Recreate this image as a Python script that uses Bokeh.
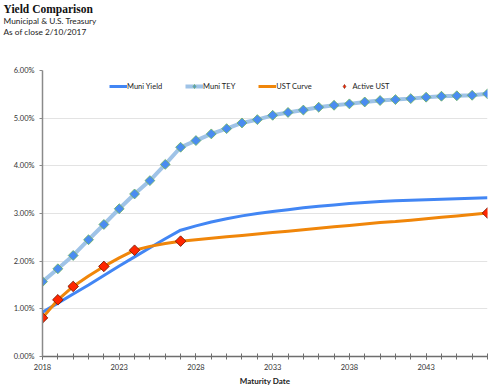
import numpy as np
from bokeh.plotting import figure
from bokeh.models import Range1d, FixedTicker, PrintfTickFormatter, Title, Legend, LegendItem
from bokeh.embed import file_html
from bokeh.resources import INLINE

years = list(range(2018, 2048))
muni_yield = [0.93, 1.12, 1.31, 1.50, 1.70, 1.90, 2.09, 2.28, 2.47, 2.65,
              2.74, 2.82, 2.89, 2.95, 3.00, 3.04, 3.08, 3.12, 3.15, 3.18,
              3.21, 3.23, 3.25, 3.27, 3.28, 3.29, 3.30, 3.31, 3.32, 3.33]
muni_tey = [1.57, 1.84, 2.12, 2.45, 2.77, 3.10, 3.41, 3.69, 4.03, 4.39,
            4.53, 4.67, 4.78, 4.90, 4.97, 5.06, 5.12, 5.17, 5.23, 5.27,
            5.30, 5.34, 5.37, 5.39, 5.41, 5.44, 5.46, 5.47, 5.48, 5.51]
ust_curve = [0.81, 1.19, 1.47, 1.69, 1.89, 2.07, 2.23, 2.31, 2.37, 2.42,
             2.45, 2.48, 2.51, 2.54, 2.57, 2.60, 2.63, 2.66, 2.69, 2.72,
             2.75, 2.78, 2.81, 2.83, 2.86, 2.89, 2.92, 2.95, 2.98, 3.01]
active_years = [2018, 2019, 2020, 2022, 2024, 2027, 2047]
active_ust = [0.81, 1.19, 1.47, 1.89, 2.23, 2.42, 3.01]
y_ticks = [0, 1, 2, 3, 4, 5, 6]
grid_ticks = [1, 2, 3, 4, 5]
x_major = [2018, 2023, 2028, 2033, 2038, 2043]

FONT = "Lato"
FW, FH = 445, 286
LEFT = 42

p = figure(frame_width=FW, frame_height=FH,
           x_range=Range1d(2018, 2047), y_range=Range1d(0, 6),
           output_backend="svg", toolbar_location=None,
           min_border_left=LEFT, min_border_right=5,
           min_border_top=0, min_border_bottom=25)
p.outline_line_color = None
p.background_fill_color = "white"
p.border_fill_color = "white"
p.xgrid.visible = False
p.ygrid[0].ticker = FixedTicker(ticks=grid_ticks)
p.ygrid.grid_line_color = "#e3e3e3"
p.ygrid.grid_line_width = 1

# y axis
p.yaxis.ticker = FixedTicker(ticks=y_ticks)
p.yaxis.formatter = PrintfTickFormatter(format="%.2f%%")
p.yaxis.axis_line_color = "#8a8a8a"
p.yaxis.axis_line_width = 1.5
p.yaxis.major_tick_line_color = "#8a8a8a"
p.yaxis.major_tick_out = 3
p.yaxis.major_tick_in = 0
p.yaxis.minor_tick_line_color = None
p.yaxis.major_label_text_font = FONT
p.yaxis.major_label_text_font_size = "7.5px"
p.yaxis.major_label_text_color = "#333333"
p.yaxis.major_label_standoff = 5

# x axis
p.xaxis.ticker = FixedTicker(ticks=x_major, minor_ticks=years)
p.xaxis.formatter = PrintfTickFormatter(format="%d")
p.xaxis.axis_line_color = "#6e6e6e"
p.xaxis.axis_line_width = 1.5
p.xaxis.major_tick_line_color = "#6e6e6e"
p.xaxis.minor_tick_line_color = "#6e6e6e"
p.xaxis.major_tick_in = 3
p.xaxis.major_tick_out = 3
p.xaxis.minor_tick_in = 3
p.xaxis.minor_tick_out = 3
p.xaxis.major_label_text_font = FONT
p.xaxis.major_label_text_font_size = "7.5px"
p.xaxis.major_label_text_color = "#333333"
p.xaxis.major_label_standoff = 4
p.xaxis.axis_label = "Maturity Date"
p.xaxis.axis_label_text_font = FONT
p.xaxis.axis_label_text_font_size = "8px"
p.xaxis.axis_label_text_font_style = "bold"
p.xaxis.axis_label_text_color = "#222222"
p.xaxis.axis_label_standoff = 3

TEY_FILL, TEY_LINE = "#4a8cf0", "#6fb35a"
ACT_FILL, ACT_LINE = "#ff2600", "#6b1500"

r1 = p.line(years, muni_yield, line_color="#4286f4", line_width=3)
r2 = p.line(years, muni_tey, line_color="#9fc3e7", line_width=4)
# legend-only diamonds (one real point each, hidden under the markers drawn later)
lg_tey = p.scatter(x=years[:1], y=muni_tey[:1], marker="diamond", size=8,
                   fill_color=TEY_FILL, line_color=TEY_LINE, line_width=0.8)
r2m = p.scatter(years, muni_tey, marker="square", angle=np.pi / 4, size=7,
                fill_color=TEY_FILL, line_color=TEY_LINE, line_width=0.8)
r3 = p.line(years, ust_curve, line_color="#f0860a", line_width=3)
lg_act = p.scatter(x=active_years[:1], y=active_ust[:1], marker="diamond", size=8,
                   fill_color=ACT_FILL, line_color=ACT_LINE, line_width=0.6)
r4 = p.scatter(active_years, active_ust, marker="square", angle=np.pi / 4, size=7.5,
               fill_color=ACT_FILL, line_color=ACT_LINE, line_width=0.8)

legend = Legend(items=[LegendItem(label="Muni Yield", renderers=[r1]),
                       LegendItem(label="Muni TEY", renderers=[r2, lg_tey]),
                       LegendItem(label="UST Curve", renderers=[r3]),
                       LegendItem(label="Active UST", renderers=[lg_act])],
                orientation="horizontal", location=(109 - LEFT, FH - 16 - 5),
                glyph_width=18, glyph_height=10, label_standoff=0, spacing=23,
                padding=0, margin=0, border_line_color=None,
                background_fill_alpha=0,
                label_text_font=FONT, label_text_font_size="7.5px",
                label_text_color="#222222", label_height=10)
p.add_layout(legend)

p.add_layout(Title(text=" ", text_font_size="10px", standoff=21), "above")
p.add_layout(Title(text="As of close 2/10/2017", text_font=FONT, text_font_size="8.3px",
                   text_font_style="normal", text_color="#222222", align="left",
                   offset=-39, standoff=0), "above")
p.add_layout(Title(text="Municipal & U.S. Treasury", text_font=FONT, text_font_size="8.3px",
                   text_font_style="normal", text_color="#222222", align="left",
                   offset=-39, standoff=-2), "above")
p.add_layout(Title(text="Yield Comparison", text_font="Liberation Serif",
                   text_font_size="11.5px", text_font_style="bold", text_color="#111111",
                   align="left", offset=-39, standoff=-0.5), "above")

open("out.html", "w").write(file_html(p, INLINE))
